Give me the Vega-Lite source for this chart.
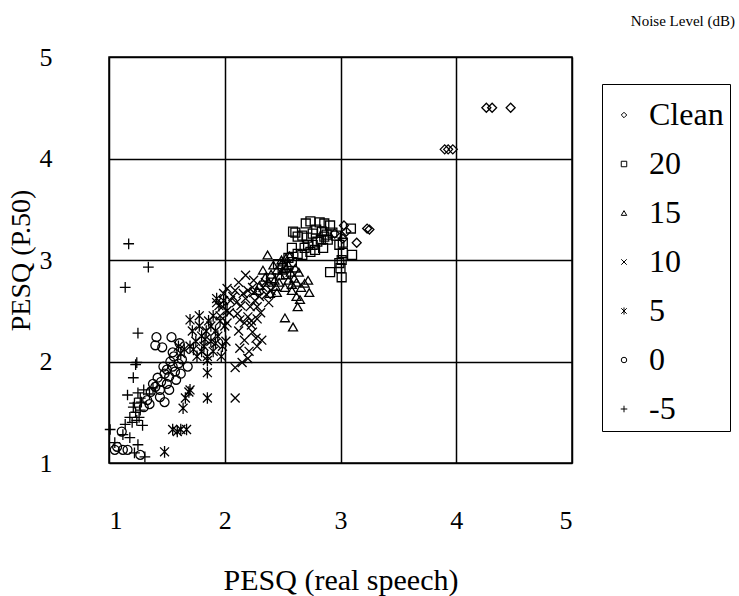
{
  "$schema": "https://vega.github.io/schema/vega-lite/v6.json",
  "autosize": {"type": "none"},
  "padding": {"left": 109, "top": 57, "right": 167, "bottom": 133},
  "width": 463,
  "height": 406,
  "background": "white",
  "title": {"text": "Noise Level (dB)", "anchor": "end", "frame": "group", "dx": 163, "offset": 15, "fontSize": 15, "font": "Liberation Serif", "fontWeight": "normal", "color": "black"},
  "config": {
    "font": "Liberation Serif",
    "view": {"stroke": "black", "strokeWidth": 1.5},
    "axis": {"labelFont": "Liberation Serif", "titleFont": "Liberation Serif", "labelColor": "black", "titleColor": "black", "titleFontWeight": "normal", "grid": true, "gridColor": "black", "gridOpacity": 1, "gridWidth": 1.5, "ticks": false, "domain": false},
    "legend": {"labelFont": "Liberation Serif", "titleFont": "Liberation Serif"}
  },
  "data": {"values": [
    {"noise": "Clean", "real": 4.26, "p50": 4.50},
    {"noise": "Clean", "real": 4.31, "p50": 4.50},
    {"noise": "Clean", "real": 4.47, "p50": 4.50},
    {"noise": "Clean", "real": 3.90, "p50": 4.09},
    {"noise": "Clean", "real": 3.93, "p50": 4.09},
    {"noise": "Clean", "real": 3.97, "p50": 4.09},
    {"noise": "Clean", "real": 3.03, "p50": 3.34},
    {"noise": "Clean", "real": 3.23, "p50": 3.31},
    {"noise": "Clean", "real": 3.25, "p50": 3.30},
    {"noise": "Clean", "real": 3.14, "p50": 3.17},
    {"noise": "Clean", "real": 2.95, "p50": 3.26},
    {"noise": "Clean", "real": 3.05, "p50": 3.28},
    {"noise": "Clean", "real": 3.02, "p50": 3.21},
    {"noise": "20", "real": 2.70, "p50": 3.36},
    {"noise": "20", "real": 2.74, "p50": 3.38},
    {"noise": "20", "real": 2.82, "p50": 3.37},
    {"noise": "20", "real": 2.86, "p50": 3.36},
    {"noise": "20", "real": 2.91, "p50": 3.34},
    {"noise": "20", "real": 2.59, "p50": 3.28},
    {"noise": "20", "real": 2.63, "p50": 3.23},
    {"noise": "20", "real": 2.61, "p50": 3.27},
    {"noise": "20", "real": 2.67, "p50": 3.24},
    {"noise": "20", "real": 2.71, "p50": 3.22},
    {"noise": "20", "real": 2.76, "p50": 3.26},
    {"noise": "20", "real": 2.79, "p50": 3.30},
    {"noise": "20", "real": 2.84, "p50": 3.28},
    {"noise": "20", "real": 2.88, "p50": 3.25},
    {"noise": "20", "real": 2.93, "p50": 3.27},
    {"noise": "20", "real": 2.96, "p50": 3.24},
    {"noise": "20", "real": 2.72, "p50": 3.15},
    {"noise": "20", "real": 2.76, "p50": 3.15},
    {"noise": "20", "real": 2.80, "p50": 3.18},
    {"noise": "20", "real": 2.83, "p50": 3.20},
    {"noise": "20", "real": 2.86, "p50": 3.23},
    {"noise": "20", "real": 2.89, "p50": 3.20},
    {"noise": "20", "real": 2.78, "p50": 3.10},
    {"noise": "20", "real": 2.74, "p50": 3.08},
    {"noise": "20", "real": 2.67, "p50": 3.05},
    {"noise": "20", "real": 2.63, "p50": 3.06},
    {"noise": "20", "real": 2.58, "p50": 3.12},
    {"noise": "20", "real": 2.69, "p50": 3.12},
    {"noise": "20", "real": 2.85, "p50": 3.12},
    {"noise": "20", "real": 2.99, "p50": 3.15},
    {"noise": "20", "real": 3.02, "p50": 3.17},
    {"noise": "20", "real": 3.02, "p50": 3.07},
    {"noise": "20", "real": 3.10, "p50": 3.05},
    {"noise": "20", "real": 2.99, "p50": 2.97},
    {"noise": "20", "real": 3.01, "p50": 3.00},
    {"noise": "20", "real": 2.91, "p50": 2.88},
    {"noise": "20", "real": 3.01, "p50": 2.83},
    {"noise": "20", "real": 3.00, "p50": 2.92},
    {"noise": "20", "real": 3.09, "p50": 3.31},
    {"noise": "20", "real": 2.58, "p50": 2.98},
    {"noise": "20", "real": 2.55, "p50": 3.02},
    {"noise": "20", "real": 2.50, "p50": 2.92},
    {"noise": "20", "real": 2.46, "p50": 2.96},
    {"noise": "20", "real": 2.40, "p50": 2.82},
    {"noise": "20", "real": 2.53, "p50": 2.86},
    {"noise": "15", "real": 2.37, "p50": 3.05},
    {"noise": "15", "real": 2.33, "p50": 2.90},
    {"noise": "15", "real": 2.39, "p50": 2.67},
    {"noise": "15", "real": 2.52, "p50": 2.73},
    {"noise": "15", "real": 2.62, "p50": 2.64},
    {"noise": "15", "real": 2.63, "p50": 2.54},
    {"noise": "15", "real": 2.52, "p50": 2.43},
    {"noise": "15", "real": 2.59, "p50": 2.34},
    {"noise": "15", "real": 2.72, "p50": 2.80},
    {"noise": "15", "real": 2.73, "p50": 2.68},
    {"noise": "15", "real": 2.65, "p50": 2.61},
    {"noise": "15", "real": 2.58, "p50": 2.70},
    {"noise": "15", "real": 2.42, "p50": 2.95},
    {"noise": "15", "real": 2.45, "p50": 2.90},
    {"noise": "15", "real": 2.48, "p50": 2.85},
    {"noise": "15", "real": 2.50, "p50": 2.98},
    {"noise": "15", "real": 2.53, "p50": 3.02},
    {"noise": "15", "real": 2.55, "p50": 2.95},
    {"noise": "15", "real": 2.57, "p50": 2.88},
    {"noise": "15", "real": 2.60, "p50": 2.82},
    {"noise": "15", "real": 2.47, "p50": 2.78},
    {"noise": "15", "real": 2.43, "p50": 2.80},
    {"noise": "15", "real": 2.40, "p50": 2.86},
    {"noise": "15", "real": 2.55, "p50": 2.80},
    {"noise": "15", "real": 2.58, "p50": 2.76},
    {"noise": "15", "real": 2.62, "p50": 2.78},
    {"noise": "15", "real": 2.50, "p50": 2.90},
    {"noise": "15", "real": 2.44, "p50": 2.74},
    {"noise": "15", "real": 2.38, "p50": 2.78},
    {"noise": "15", "real": 2.35, "p50": 2.83},
    {"noise": "15", "real": 2.53, "p50": 2.92},
    {"noise": "15", "real": 2.61, "p50": 2.92},
    {"noise": "15", "real": 2.64, "p50": 2.88},
    {"noise": "15", "real": 2.56, "p50": 3.04},
    {"noise": "15", "real": 2.49, "p50": 3.00},
    {"noise": "15", "real": 2.30, "p50": 2.75},
    {"noise": "15", "real": 2.28, "p50": 2.70},
    {"noise": "15", "real": 2.66, "p50": 2.73},
    {"noise": "15", "real": 2.69, "p50": 2.77},
    {"noise": "15", "real": 2.45, "p50": 2.68},
    {"noise": "10", "real": 2.02, "p50": 2.72},
    {"noise": "10", "real": 2.07, "p50": 2.64},
    {"noise": "10", "real": 2.04, "p50": 2.48},
    {"noise": "10", "real": 2.13, "p50": 2.41},
    {"noise": "10", "real": 2.16, "p50": 2.67},
    {"noise": "10", "real": 2.22, "p50": 2.54},
    {"noise": "10", "real": 2.28, "p50": 2.54},
    {"noise": "10", "real": 2.30, "p50": 2.64},
    {"noise": "10", "real": 2.24, "p50": 2.73},
    {"noise": "10", "real": 2.33, "p50": 2.73},
    {"noise": "10", "real": 1.98, "p50": 2.54},
    {"noise": "10", "real": 1.93, "p50": 2.58},
    {"noise": "10", "real": 2.02, "p50": 2.38},
    {"noise": "10", "real": 2.20, "p50": 2.44},
    {"noise": "10", "real": 2.09, "p50": 1.94},
    {"noise": "10", "real": 2.09, "p50": 1.64},
    {"noise": "10", "real": 2.15, "p50": 1.99},
    {"noise": "10", "real": 2.20, "p50": 2.03},
    {"noise": "10", "real": 2.13, "p50": 2.13},
    {"noise": "10", "real": 2.17, "p50": 2.21},
    {"noise": "10", "real": 2.24, "p50": 2.29},
    {"noise": "10", "real": 2.32, "p50": 2.21},
    {"noise": "10", "real": 2.23, "p50": 2.36},
    {"noise": "10", "real": 2.27, "p50": 2.23},
    {"noise": "10", "real": 2.10, "p50": 2.58},
    {"noise": "10", "real": 2.12, "p50": 2.78},
    {"noise": "10", "real": 2.18, "p50": 2.62},
    {"noise": "10", "real": 2.26, "p50": 2.60},
    {"noise": "10", "real": 2.36, "p50": 2.66},
    {"noise": "10", "real": 2.38, "p50": 2.58},
    {"noise": "10", "real": 2.31, "p50": 2.48},
    {"noise": "10", "real": 2.25, "p50": 2.68},
    {"noise": "10", "real": 2.20, "p50": 2.70},
    {"noise": "10", "real": 2.14, "p50": 2.55},
    {"noise": "10", "real": 2.09, "p50": 2.70},
    {"noise": "10", "real": 2.05, "p50": 2.60},
    {"noise": "10", "real": 1.99, "p50": 2.67},
    {"noise": "10", "real": 1.96, "p50": 2.45},
    {"noise": "10", "real": 2.11, "p50": 2.47},
    {"noise": "10", "real": 2.17, "p50": 2.38},
    {"noise": "10", "real": 2.23, "p50": 2.40},
    {"noise": "10", "real": 2.28, "p50": 2.42},
    {"noise": "10", "real": 2.35, "p50": 2.78},
    {"noise": "10", "real": 2.40, "p50": 2.70},
    {"noise": "10", "real": 2.18, "p50": 2.85},
    {"noise": "10", "real": 2.25, "p50": 2.80},
    {"noise": "10", "real": 2.12, "p50": 2.30},
    {"noise": "10", "real": 2.28, "p50": 2.15},
    {"noise": "10", "real": 2.21, "p50": 2.10},
    {"noise": "5", "real": 1.70, "p50": 2.41},
    {"noise": "5", "real": 1.72, "p50": 2.30},
    {"noise": "5", "real": 1.75, "p50": 2.20},
    {"noise": "5", "real": 1.70, "p50": 2.15},
    {"noise": "5", "real": 1.78, "p50": 2.35},
    {"noise": "5", "real": 1.80, "p50": 2.25},
    {"noise": "5", "real": 1.82, "p50": 2.15},
    {"noise": "5", "real": 1.84, "p50": 2.30},
    {"noise": "5", "real": 1.86, "p50": 2.40},
    {"noise": "5", "real": 1.88, "p50": 2.20},
    {"noise": "5", "real": 1.90, "p50": 2.10},
    {"noise": "5", "real": 1.92, "p50": 2.30},
    {"noise": "5", "real": 1.94, "p50": 2.25},
    {"noise": "5", "real": 1.96, "p50": 2.40},
    {"noise": "5", "real": 1.98, "p50": 2.15},
    {"noise": "5", "real": 2.00, "p50": 2.35},
    {"noise": "5", "real": 2.02, "p50": 2.50},
    {"noise": "5", "real": 1.85, "p50": 2.05},
    {"noise": "5", "real": 1.80, "p50": 2.10},
    {"noise": "5", "real": 1.76, "p50": 2.05},
    {"noise": "5", "real": 1.90, "p50": 2.45},
    {"noise": "5", "real": 1.95, "p50": 2.55},
    {"noise": "5", "real": 1.88, "p50": 2.35},
    {"noise": "5", "real": 1.83, "p50": 2.22},
    {"noise": "5", "real": 1.92, "p50": 2.18},
    {"noise": "5", "real": 1.97, "p50": 2.05},
    {"noise": "5", "real": 2.01, "p50": 2.20},
    {"noise": "5", "real": 1.73, "p50": 2.12},
    {"noise": "5", "real": 1.65, "p50": 2.12},
    {"noise": "5", "real": 1.60, "p50": 2.15},
    {"noise": "5", "real": 1.62, "p50": 2.08},
    {"noise": "5", "real": 1.78, "p50": 2.45},
    {"noise": "5", "real": 1.99, "p50": 2.60},
    {"noise": "5", "real": 1.93, "p50": 2.62},
    {"noise": "5", "real": 1.85, "p50": 1.89},
    {"noise": "5", "real": 1.85, "p50": 1.64},
    {"noise": "5", "real": 1.70, "p50": 1.72},
    {"noise": "5", "real": 1.66, "p50": 1.64},
    {"noise": "5", "real": 1.64, "p50": 1.54},
    {"noise": "5", "real": 1.55, "p50": 1.33},
    {"noise": "5", "real": 1.59, "p50": 1.31},
    {"noise": "5", "real": 1.62, "p50": 1.33},
    {"noise": "5", "real": 1.67, "p50": 1.33},
    {"noise": "5", "real": 1.48, "p50": 1.11},
    {"noise": "5", "real": 1.85, "p50": 2.01},
    {"noise": "5", "real": 1.69, "p50": 1.70},
    {"noise": "0", "real": 1.05, "p50": 1.13},
    {"noise": "0", "real": 1.07, "p50": 1.16},
    {"noise": "0", "real": 1.12, "p50": 1.13},
    {"noise": "0", "real": 1.16, "p50": 1.13},
    {"noise": "0", "real": 1.11, "p50": 1.31},
    {"noise": "0", "real": 1.27, "p50": 1.08},
    {"noise": "0", "real": 1.41, "p50": 2.24},
    {"noise": "0", "real": 1.54, "p50": 2.24},
    {"noise": "0", "real": 1.40, "p50": 2.16},
    {"noise": "0", "real": 1.46, "p50": 2.14},
    {"noise": "0", "real": 1.61, "p50": 2.18},
    {"noise": "0", "real": 1.55, "p50": 2.09},
    {"noise": "0", "real": 1.48, "p50": 1.60},
    {"noise": "0", "real": 1.44, "p50": 1.72},
    {"noise": "0", "real": 1.68, "p50": 1.95},
    {"noise": "0", "real": 1.30, "p50": 1.55},
    {"noise": "0", "real": 1.33, "p50": 1.62},
    {"noise": "0", "real": 1.36, "p50": 1.70},
    {"noise": "0", "real": 1.38, "p50": 1.78},
    {"noise": "0", "real": 1.42, "p50": 1.84},
    {"noise": "0", "real": 1.45, "p50": 1.80},
    {"noise": "0", "real": 1.48, "p50": 1.88},
    {"noise": "0", "real": 1.50, "p50": 1.92},
    {"noise": "0", "real": 1.52, "p50": 1.85},
    {"noise": "0", "real": 1.55, "p50": 1.95},
    {"noise": "0", "real": 1.57, "p50": 1.90},
    {"noise": "0", "real": 1.60, "p50": 1.98},
    {"noise": "0", "real": 1.58, "p50": 1.82},
    {"noise": "0", "real": 1.62, "p50": 1.88},
    {"noise": "0", "real": 1.53, "p50": 2.00},
    {"noise": "0", "real": 1.56, "p50": 2.05},
    {"noise": "0", "real": 1.47, "p50": 1.95},
    {"noise": "0", "real": 1.40, "p50": 1.75},
    {"noise": "0", "real": 1.44, "p50": 1.65},
    {"noise": "0", "real": 1.35, "p50": 1.58},
    {"noise": "0", "real": 1.50, "p50": 1.78},
    {"noise": "0", "real": 1.63, "p50": 2.02},
    {"noise": "0", "real": 1.52, "p50": 1.72},
    {"noise": "-5", "real": 1.17, "p50": 3.16},
    {"noise": "-5", "real": 1.34, "p50": 2.93},
    {"noise": "-5", "real": 1.14, "p50": 2.73},
    {"noise": "-5", "real": 1.25, "p50": 2.28},
    {"noise": "-5", "real": 1.24, "p50": 1.99},
    {"noise": "-5", "real": 1.21, "p50": 1.84},
    {"noise": "-5", "real": 1.16, "p50": 1.67},
    {"noise": "-5", "real": 1.25, "p50": 1.69},
    {"noise": "-5", "real": 1.18, "p50": 1.45},
    {"noise": "-5", "real": 1.27, "p50": 1.52},
    {"noise": "-5", "real": 1.29, "p50": 1.37},
    {"noise": "-5", "real": 1.01, "p50": 1.33},
    {"noise": "-5", "real": 1.18, "p50": 1.25},
    {"noise": "-5", "real": 1.25, "p50": 1.18},
    {"noise": "-5", "real": 1.31, "p50": 1.06},
    {"noise": "-5", "real": 1.05, "p50": 1.20},
    {"noise": "-5", "real": 1.22, "p50": 1.59},
    {"noise": "-5", "real": 1.24, "p50": 1.42},
    {"noise": "-5", "real": 1.27, "p50": 1.64},
    {"noise": "-5", "real": 1.20, "p50": 1.40},
    {"noise": "-5", "real": 1.23, "p50": 1.50},
    {"noise": "-5", "real": 1.26, "p50": 1.45},
    {"noise": "-5", "real": 1.14, "p50": 1.38},
    {"noise": "-5", "real": 1.28, "p50": 1.60},
    {"noise": "-5", "real": 1.23, "p50": 1.97},
    {"noise": "-5", "real": 1.12, "p50": 1.28},
    {"noise": "-5", "real": 1.21, "p50": 1.55},
    {"noise": "-5", "real": 1.30, "p50": 1.72},
    {"noise": "-5", "real": 1.35, "p50": 1.68},
    {"noise": "-5", "real": 1.38, "p50": 1.74},
    {"noise": "-5", "real": 1.22, "p50": 1.10}
  ]},
  "mark": {"type": "point", "filled": false, "color": "black", "strokeWidth": 1.3, "size": 80, "opacity": 1},
  "encoding": {
    "x": {"field": "real", "type": "quantitative", "scale": {"domain": [1, 5], "nice": false, "zero": false},
      "axis": {"values": [1, 2, 3, 4, 5], "format": "d", "labelFont": "Liberation Serif", "labelFontSize": 26, "labelPadding": 44, "title": "PESQ (real speech)", "titleFont": "Liberation Serif", "titleFontSize": 30, "titleY": 117, "titleBaseline": "middle"}},
    "y": {"field": "p50", "type": "quantitative", "scale": {"domain": [1, 5], "nice": false, "zero": false},
      "axis": {"values": [1, 2, 3, 4, 5], "format": "d", "labelFont": "Liberation Serif", "labelFontSize": 26, "labelPadding": 57, "title": "PESQ (P.50)", "titleFont": "Liberation Serif", "titleFontSize": 28, "titleX": -88, "titleBaseline": "middle"}},
    "shape": {"field": "noise", "type": "nominal",
      "scale": {"domain": ["Clean", "20", "15", "10", "5", "0", "-5"],
        "range": ["diamond", "square", "triangle-up", "M-1,-1L1,1M-1,1L1,-1", "M-1,-1L1,1M-1,1L1,-1M0,-1.3L0,1.3", "circle", "M-1.2,0L1.2,0M0,-1.2L0,1.2"]},
      "legend": {"title": " ", "titleFontSize": 8, "titlePadding": 1, "orient": "none", "legendX": 493, "legendY": 27, "strokeColor": "black", "padding": 6, "labelFont": "Liberation Serif", "labelFontSize": 32, "labelColor": "black", "symbolSize": 30, "symbolStrokeColor": "black", "symbolStrokeWidth": 1, "rowPadding": 17, "labelOffset": 9, "labelLimit": 200,
        "encode": {"labels": {"update": {"font": {"value": "Liberation Serif"}, "fontSize": {"value": 32}}}}}}
  }
}
